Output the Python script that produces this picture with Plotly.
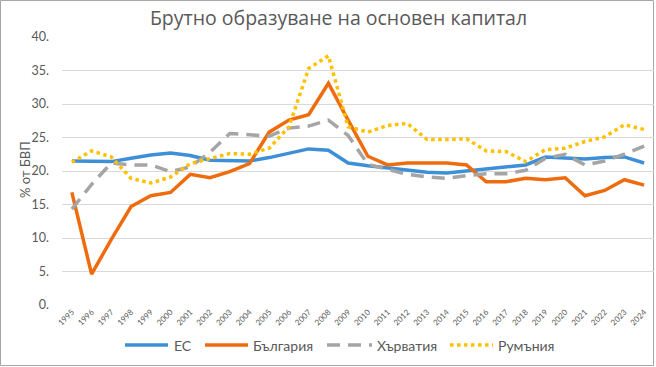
import plotly.graph_objects as go

years = [str(y) for y in range(1995, 2025)]

eu = [21.5, 21.5, 21.4, 21.9, 22.4, 22.7, 22.3, 21.6, 21.6, 21.5,
      22.0, 22.7, 23.3, 23.1, 21.2, 20.8, 20.5, 20.2, 19.8, 19.7,
      20.0, 20.3, 20.6, 20.9, 22.1, 22.0, 21.8, 22.0, 22.1, 21.2]

bulgaria = [16.8, 4.6, 9.8, 14.7, 16.3, 16.8, 19.5, 19.0, 19.9, 21.1,
            25.8, 27.6, 28.4, 33.1, 27.6, 22.2, 20.9, 21.2, 21.2, 21.2,
            20.9, 18.4, 18.4, 18.9, 18.7, 19.0, 16.3, 17.1, 18.7, 17.9]

croatia = [14.3, 18.0, 21.2, 20.9, 20.9, 19.9, 20.6, 22.8, 25.6, 25.4,
           25.2, 26.4, 26.7, 27.6, 25.3, 21.0, 20.3, 19.5, 19.1, 18.9,
           19.3, 19.6, 19.6, 20.1, 21.9, 22.5, 20.9, 21.5, 22.5, 23.7]

romania = [21.3, 23.0, 22.1, 18.9, 18.2, 19.1, 21.1, 21.9, 22.6, 22.5,
           23.4, 26.6, 35.3, 37.2, 26.6, 25.8, 26.8, 27.1, 24.7, 24.7,
           24.8, 23.0, 22.9, 21.4, 23.2, 23.4, 24.4, 25.1, 26.9, 26.2]

series_names = ["ЕС", "България", "Хърватия", "Румъния"]
y_ticks = [0, 5, 10, 15, 20, 25, 30, 35, 40]
y_tick_text = ["0.", "5.", "10.", "15.", "20.", "25.", "30.", "35.", "40."]

colors = ["#3D8FD8", "#EF6C0E", "#A5A5A5", "#FFC000"]
dashes = ["solid", "solid", "13px,8px", "3.5px,3.5px"]
values = [eu, bulgaria, croatia, romania]

W, H = 656, 367
ml, mr, mt, mb = 62, 2, 37, 62
pw = W - ml - mr
ph = H - mt - mb


def px_x(px):
    return (px - ml) / pw


def px_y(py):
    return (mt + ph - py) / ph


fig = go.Figure()
for name, vals, col, dsh in zip(series_names, values, colors, dashes):
    fig.add_trace(go.Scatter(
        x=years, y=vals, name=name, mode="lines",
        line=dict(color=col, width=3.5, dash=dsh),
        showlegend=False,
    ))

# custom legend (line sample start/end, text start) in pixels
legend_pos = [(125, 168, 172), (205, 248, 251), (327, 372, 375), (450, 493, 496)]
legend_y = 345
shapes = []
annotations = []
for name, col, dsh, (x0, x1, tx) in zip(series_names, colors, dashes, legend_pos):
    shapes.append(dict(type="line", xref="paper", yref="paper",
                       x0=px_x(x0), x1=px_x(x1),
                       y0=px_y(legend_y), y1=px_y(legend_y),
                       line=dict(color=col, width=3.5, dash=dsh)))
    annotations.append(dict(text=name, xref="paper", yref="paper",
                            x=px_x(tx), y=px_y(legend_y),
                            xanchor="left", yanchor="middle", showarrow=False,
                            font=dict(size=14, color="#595959")))

annotations.append(dict(text="% от БВП", textangle=-90,
                        xref="paper", yref="paper",
                        x=px_x(25), y=px_y(170),
                        xanchor="center", yanchor="middle", showarrow=False,
                        font=dict(size=13, color="#595959")))

shapes.append(dict(type="rect", xref="paper", yref="paper",
                   x0=px_x(0.5), x1=px_x(653.5),
                   y0=px_y(365.5), y1=px_y(0.5),
                   line=dict(color="#A6A6A6", width=1), layer="below"))

fig.update_layout(
    width=W, height=H,
    margin=dict(l=ml, r=mr, t=mt, b=mb, autoexpand=False),
    paper_bgcolor="white", plot_bgcolor="white",
    font=dict(family="Lato, Calibri, sans-serif", color="#595959"),
    title=dict(text="Брутно образуване на основен капитал",
               x=338.5 / W, xanchor="center", y=1 - 18 / H, yanchor="middle",
               font=dict(family="Open Sans, sans-serif", size=19.5,
                         color="#595959")),
    showlegend=False,
    xaxis=dict(type="category", range=[-0.5, 29.5], tickangle=-45,
               tickfont=dict(size=8, color="#595959"),
               showgrid=False, showline=False, zeroline=False, ticks="",
               automargin=False),
    yaxis=dict(range=[0, 40], tickvals=y_ticks, ticktext=y_tick_text,
               tickfont=dict(size=12.5, color="#595959"),
               showgrid=True, gridcolor="#D9D9D9", gridwidth=1,
               zeroline=False, showline=False, ticks="",
               ticklabelstandoff=12, automargin=False),
    shapes=shapes,
    annotations=annotations,
)

fig.write_html("out.html", config={"displayModeBar": False},
               post_script="document.body.style.margin='0';document.body.style.overflow='hidden';")
